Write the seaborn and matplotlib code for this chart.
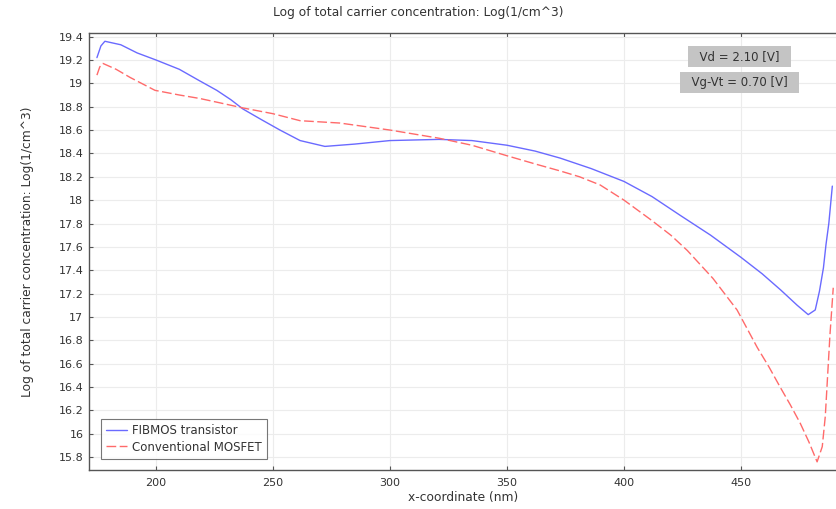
import seaborn as sns
import matplotlib.pyplot as plt
import pandas as pd

# FIBMOS transistor
fibmos_x = [174.8, 176.5, 178.2, 185, 192, 200, 210, 218.8, 226, 232, 237.2, 245, 253, 261.6,
            272.2, 285, 300, 321, 335, 350, 362, 372.7, 386, 400, 412, 424, 437, 450, 459,
            467, 474, 478.7, 481.7, 483.5, 485.2, 486.3, 487.5, 489]
fibmos_y = [19.22, 19.32, 19.36, 19.33, 19.26, 19.2, 19.12, 19.02, 18.94, 18.86, 18.78, 18.69,
            18.6, 18.51, 18.46, 18.48, 18.51, 18.52, 18.51, 18.47, 18.42, 18.36, 18.27, 18.16,
            18.03, 17.87, 17.7, 17.51, 17.37, 17.23, 17.1, 17.02, 17.06, 17.22, 17.42, 17.62,
            17.8, 18.12]

# Conventional MOSFET
mosfet_x = [174.8, 176, 177.4, 183, 189, 199.6, 210, 218.8, 228, 237, 250, 261.6, 278.6,
            300, 321, 335, 350, 362, 372.7, 381, 389.8, 400, 411.6, 420, 427, 438, 448.3,
            456.9, 462, 466.7, 471, 475.3, 479, 482.5, 484.7, 486, 486.8, 488, 489.4]
mosfet_y = [19.07, 19.14, 19.17, 19.12, 19.05, 18.94, 18.9, 18.87, 18.83, 18.79, 18.74, 18.68,
            18.66, 18.6, 18.53, 18.47, 18.38, 18.31, 18.25, 18.2, 18.13, 18.0, 17.83, 17.7,
            17.57, 17.33, 17.06, 16.74, 16.57, 16.4, 16.25, 16.09, 15.93, 15.76, 15.89, 16.15,
            16.43, 16.85, 17.25]

df = pd.concat([
    pd.DataFrame({'x': fibmos_x, 'y': fibmos_y, 'device': 'FIBMOS transistor'}),
    pd.DataFrame({'x': mosfet_x, 'y': mosfet_y, 'device': 'Conventional MOSFET'}),
])

sns.set_style('whitegrid')
plt.rcParams['font.family'] = ['DejaVu Sans']

fig = plt.figure(figsize=(8.37, 5.09), dpi=100)
ax = fig.add_axes([0.1063, 0.0766, 0.8937, 0.8584])

sns.lineplot(data=df, x='x', y='y', hue='device', style='device',
             palette={'FIBMOS transistor': '#6a6aff', 'Conventional MOSFET': '#ff6a6a'},
             dashes={'FIBMOS transistor': '', 'Conventional MOSFET': (7, 2.5)},
             linewidth=1.0, sort=False, estimator=None, ax=ax)

ax.set_xlim(171.4, 491)
ax.set_ylim(15.69, 19.43)
ax.set_xticks([200, 250, 300, 350, 400, 450])
ax.set_yticks([15.8, 16, 16.2, 16.4, 16.6, 16.8, 17, 17.2, 17.4, 17.6, 17.8, 18, 18.2,
               18.4, 18.6, 18.8, 19, 19.2, 19.4])
ax.set_yticklabels(['15.8', '16', '16.2', '16.4', '16.6', '16.8', '17', '17.2', '17.4',
                    '17.6', '17.8', '18', '18.2', '18.4', '18.6', '18.8', '19', '19.2', '19.4'])
ax.grid(True, color='#ececec', linewidth=0.8)
for s in ['left', 'bottom', 'top']:
    ax.spines[s].set_visible(True)
    ax.spines[s].set_color('#555555')
    ax.spines[s].set_linewidth(1.0)
ax.spines['right'].set_visible(False)
ax.tick_params(axis='both', direction='in', length=3, width=0.8, color='#555555',
               labelsize=8, labelcolor='#333333', top=True, left=True, bottom=True, pad=4)
ax.tick_params(axis='x', pad=6)

ax.set_xlabel('x-coordinate (nm)', fontsize=8.8, color='#333333', labelpad=2)
ax.set_ylabel('Log of total carrier concentration: Log(1/cm^3)', fontsize=8.8, color='#333333',
              labelpad=18)
ax.set_title('Log of total carrier concentration: Log(1/cm^3)', fontsize=8.8, color='#333333',
             pad=12, x=0.44)

# parameter boxes
box = dict(boxstyle='square,pad=0.33', facecolor='#c4c4c4', edgecolor='none')
ax.text(0.8697, 0.946, '  Vd = 2.10 [V]  ', transform=ax.transAxes, ha='center', va='center',
        fontsize=8.5, color='#333333', bbox=box)
ax.text(0.8697, 0.8867, '  Vg-Vt = 0.70 [V]  ', transform=ax.transAxes, ha='center', va='center',
        fontsize=8.5, color='#333333', bbox=box)

leg = ax.legend(loc='lower left', bbox_to_anchor=(0.008, 0.012), fontsize=8.5, frameon=True,
                fancybox=False, edgecolor='#555555', handlelength=1.8, handletextpad=0.4,
                borderpad=0.45, labelspacing=0.3)
leg.get_frame().set_linewidth(0.8)
for t in leg.get_texts():
    t.set_color('#333333')

fig.savefig('out.png', dpi=100)
